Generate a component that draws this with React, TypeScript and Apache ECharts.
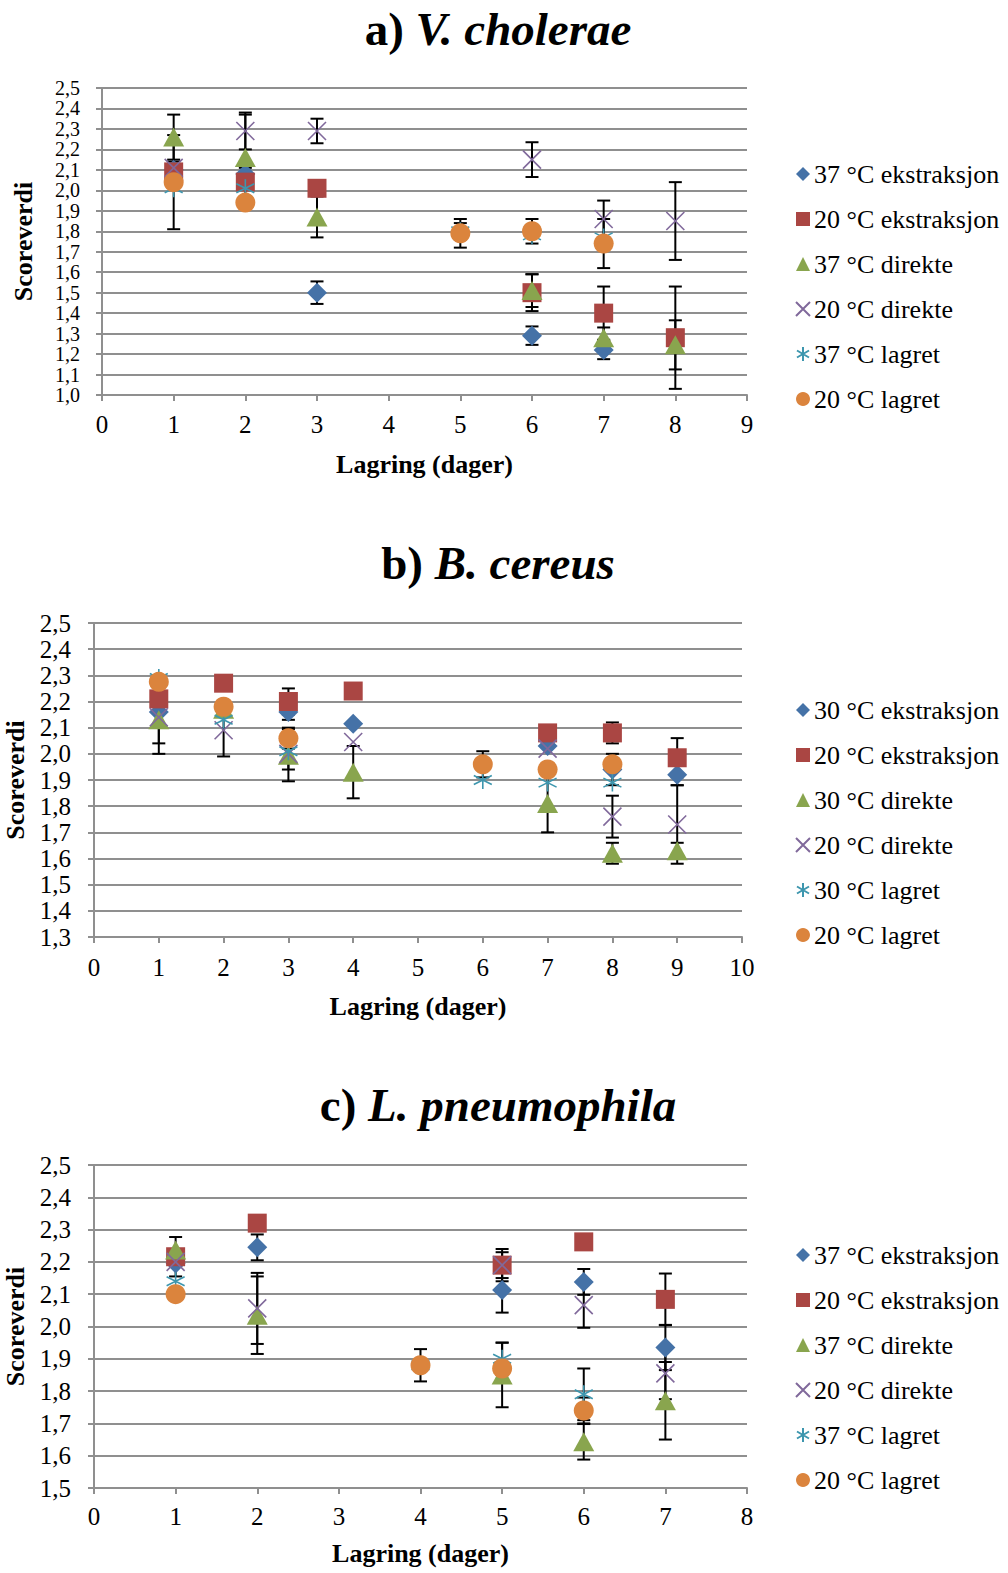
import React, { useEffect, useRef } from 'react';
import * as echarts from 'echarts';

const FONT = '"Liberation Serif", "Times New Roman", Times, serif';

// Titles of the three panels: [prefix, italic organism name]
const TITLES = [
  ['a) ', 'V. cholerae'],
  ['b) ', 'B. cereus'],
  ['c) ', 'L. pneumophila'],
];

const NAMES_A = ['37 °C ekstraksjon', '20 °C ekstraksjon', '37 °C direkte', '20 °C direkte', '37 °C lagret', '20 °C lagret'];
const NAMES_B = ['30 °C ekstraksjon', '20 °C ekstraksjon', '30 °C direkte', '20 °C direkte', '30 °C lagret', '20 °C lagret'];
const NAMES_C = ['37 °C ekstraksjon', '20 °C ekstraksjon', '37 °C direkte', '20 °C direkte', '37 °C lagret', '20 °C lagret'];

const X_MAX = [9, 10, 8];
const Y_MIN = [1.0, 1.3, 1.5];
const Y_MAX = [2.5, 2.5, 2.5];
const X_NAME = 'Lagring (dager)';
const Y_NAME = 'Scoreverdi';

// Panel a: [day, score, error]
const A_HOT_EKS = [[1, 2.1, 0.04], [2, 2.08, 0.03], [3, 1.5, 0.055], [6, 1.29, 0.045], [7, 1.22, 0.045]];
const A_RT_EKS = [[1, 2.09, 0], [2, 2.04, 0], [3, 2.01, 0], [6, 1.5, 0.09], [7, 1.4, 0.13], [8, 1.28, 0.25]];
const A_HOT_DIR = [[1, 2.26, 0.11], [2, 2.16, 0.21], [3, 1.87, 0.1], [6, 1.51, 0.08], [7, 1.28, 0.05], [8, 1.245, 0.12]];
const A_RT_DIR = [[1, 2.11, 0], [2, 2.29, 0.09], [3, 2.29, 0.06], [6, 2.15, 0.085], [7, 1.86, 0.09], [8, 1.85, 0.19]];
const A_HOT_LAG = [[1, 2.01, 0], [2, 2.01, 0], [5, 1.8, 0.04], [6, 1.78, 0], [7, 1.77, 0]];
const A_RT_LAG = [[1, 2.04, 0.23], [2, 1.94, 0], [5, 1.79, 0.07], [6, 1.8, 0.06], [7, 1.74, 0.12]];

// Panel b
const B_HOT_EKS = [[1, 2.16, 0], [3, 2.16, 0.03], [4, 2.115, 0], [7, 2.03, 0], [8, 1.94, 0.06], [9, 1.92, 0.04]];
const B_RT_EKS = [[1, 2.21, 0], [2, 2.27, 0], [3, 2.2, 0.05], [4, 2.24, 0], [7, 2.08, 0], [8, 2.08, 0.04], [9, 1.985, 0.075]];
const B_HOT_DIR = [[1, 2.13, 0.13], [2, 2.17, 0], [3, 1.995, 0.1], [4, 1.93, 0.1], [7, 1.81, 0.11], [8, 1.62, 0.04], [9, 1.63, 0.03]];
const B_RT_DIR = [[1, 2.14, 0.1], [2, 2.09, 0.1], [3, 2.0, 0.06], [4, 2.045, 0], [7, 2.02, 0], [8, 1.76, 0.08], [9, 1.73, 0.15]];
const B_HOT_LAG = [[1, 2.29, 0], [2, 2.13, 0], [3, 2.01, 0], [6, 1.9, 0], [7, 1.89, 0], [8, 1.89, 0]];
const B_RT_LAG = [[1, 2.275, 0], [2, 2.18, 0], [3, 2.06, 0.04], [6, 1.96, 0.05], [7, 1.94, 0], [8, 1.96, 0]];

// Panel c
const C_HOT_EKS = [[1, 2.195, 0.04], [2, 2.245, 0.04], [5, 2.113, 0.07], [6, 2.138, 0.04], [7, 1.935, 0.07]];
const C_RT_EKS = [[1, 2.216, 0], [2, 2.32, 0], [5, 2.19, 0.05], [6, 2.262, 0], [7, 2.084, 0.08]];
const C_HOT_DIR = [[1, 2.237, 0.04], [2, 2.035, 0.12], [5, 1.85, 0.1], [6, 1.643, 0.055], [7, 1.77, 0.12]];
const C_RT_DIR = [[1, 2.2, 0], [2, 2.056, 0.11], [5, 2.19, 0.04], [6, 2.066, 0.07], [7, 1.855, 0.08]];
const C_HOT_LAG = [[1, 2.14, 0], [4, 1.88, 0], [5, 1.9, 0.05], [6, 1.79, 0.08]];
const C_RT_LAG = [[1, 2.1, 0], [4, 1.88, 0.05], [5, 1.87, 0], [6, 1.74, 0.04]];

const PANEL_DATA = [
  [A_HOT_EKS, A_RT_EKS, A_HOT_DIR, A_RT_DIR, A_HOT_LAG, A_RT_LAG],
  [B_HOT_EKS, B_RT_EKS, B_HOT_DIR, B_RT_DIR, B_HOT_LAG, B_RT_LAG],
  [C_HOT_EKS, C_RT_EKS, C_HOT_DIR, C_RT_DIR, C_HOT_LAG, C_RT_LAG],
];
const PANEL_NAMES = [NAMES_A, NAMES_B, NAMES_C];

// Styling (not data)
const COLORS = ['#4572A7', '#AA4643', '#89A54E', '#80699B', '#3D96AE', '#DB843D'];
const SYMBOLS = [
  'diamond',
  'rect',
  'triangle',
  'path://M0,0L10,10M10,0L0,10',
  'path://M5,0L5,10M0.7,2.5L9.3,7.5M0.7,7.5L9.3,2.5',
  'circle',
];
const SIZES: any[] = [[20, 20], [19, 19], [21, 19], [18, 18], [18, 18], [20, 20]];
const OUTLINE = [false, false, false, true, true, false];

const GRIDS = [
  { left: 102, top: 88, width: 645, height: 307, outerBoundsMode: 'none', containLabel: false },
  { left: 94, top: 623, width: 648, height: 314, outerBoundsMode: 'none', containLabel: false },
  { left: 94, top: 1165, width: 653, height: 323, outerBoundsMode: 'none', containLabel: false },
];
const TITLE_TOPS = [0, 534, 1076];
const LEGEND_TOPS = [161, 697, 1242];
const XLABEL_MARGIN = [17, 18, 16];
const XNAME_GAP = [56, 56, 52];
const YNAME_GAP = [66, 66, 64];
const YLABEL_SIZE = [20, 25, 25];
const YLABEL_MARGIN = [22, 23, 23];

const GRID_COLOR = '#8f8f8f';

export default function App() {
  const ref = useRef<HTMLDivElement>(null);
  useEffect(() => {
    if (!ref.current) return;
    const chart = echarts.init(ref.current, undefined, { renderer: 'svg' });

    const xAxis: any[] = [];
    const yAxis: any[] = [];
    const series: any[] = [];
    const legend: any[] = [];
    const title: any[] = [];

    for (let p = 0; p < 3; p++) {
      title.push({
        text: `{n|${TITLES[p][0]}}{s|${TITLES[p][1]}}`,
        left: 493,
        textAlign: 'center',
        top: TITLE_TOPS[p],
        textStyle: {
          rich: {
            n: { fontSize: 47, fontWeight: 'bold', fontFamily: FONT, color: '#000' },
            s: { fontSize: 47, fontWeight: 'bold', fontStyle: 'italic', fontFamily: FONT, color: '#000' },
          },
        },
      });
      xAxis.push({
        type: 'value',
        gridIndex: p,
        min: 0,
        max: X_MAX[p],
        interval: 1,
        name: X_NAME,
        nameLocation: 'middle',
        nameGap: XNAME_GAP[p],
        nameTextStyle: { fontSize: 26, fontWeight: 'bold', fontFamily: FONT, color: '#000' },
        axisLine: { show: true, onZero: false, lineStyle: { color: GRID_COLOR, width: 2 } },
        axisTick: { show: true, inside: false, length: 6, lineStyle: { color: GRID_COLOR, width: 2 } },
        axisLabel: {
          fontSize: 25,
          fontFamily: FONT,
          color: '#000',
          margin: XLABEL_MARGIN[p],
          showMinLabel: true,
          showMaxLabel: true,
        },
        splitLine: { show: false },
      });
      yAxis.push({
        type: 'value',
        gridIndex: p,
        min: Y_MIN[p],
        max: Y_MAX[p],
        interval: 0.1,
        name: Y_NAME,
        nameLocation: 'middle',
        nameRotate: 90,
        nameGap: YNAME_GAP[p],
        nameTextStyle: { fontSize: 26, fontWeight: 'bold', fontFamily: FONT, color: '#000' },
        axisLine: { show: true, onZero: false, lineStyle: { color: GRID_COLOR, width: 2 } },
        axisTick: { show: true, inside: false, length: 6, lineStyle: { color: GRID_COLOR, width: 2 } },
        axisLabel: {
          fontSize: YLABEL_SIZE[p],
          fontFamily: FONT,
          color: '#000',
          margin: YLABEL_MARGIN[p],
          showMinLabel: true,
          showMaxLabel: true,
          hideOverlap: false,
          formatter: (v: number) => v.toFixed(1).replace('.', ','),
        },
        splitLine: { show: true, lineStyle: { color: GRID_COLOR, width: 2 } },
      });

      const errs: number[][] = [];
      PANEL_DATA[p].forEach((arr) => arr.forEach((d) => { if (d[2] > 0) errs.push(d); }));
      series.push({
        type: 'custom',
        xAxisIndex: p,
        yAxisIndex: p,
        z: 1,
        silent: true,
        clip: true,
        encode: { x: 0, y: 1 },
        data: errs,
        renderItem: (_params: any, api: any) => {
          const x = api.value(0);
          const y = api.value(1);
          const e = api.value(2);
          const top = api.coord([x, y + e]);
          const bot = api.coord([x, y - e]);
          const w = 6.5;
          const st = { stroke: '#000', lineWidth: 2 };
          return {
            type: 'group',
            children: [
              { type: 'line', shape: { x1: top[0], y1: top[1], x2: bot[0], y2: bot[1] }, style: st },
              { type: 'line', shape: { x1: top[0] - w, y1: top[1], x2: top[0] + w, y2: top[1] }, style: st },
              { type: 'line', shape: { x1: bot[0] - w, y1: bot[1], x2: bot[0] + w, y2: bot[1] }, style: st },
            ],
          };
        },
      });

      PANEL_DATA[p].forEach((arr, s) => {
        series.push({
          type: 'scatter',
          name: PANEL_NAMES[p][s],
          xAxisIndex: p,
          yAxisIndex: p,
          z: 2,
          symbol: SYMBOLS[s],
          symbolSize: SIZES[s],
          data: arr.map((d) => [d[0], d[1]]),
          itemStyle: OUTLINE[s]
            ? { color: 'rgba(0,0,0,0)', borderColor: COLORS[s], borderWidth: 1.6, opacity: 1 }
            : { color: COLORS[s], opacity: 1 },
        });
      });

      legend.push({
        data: PANEL_NAMES[p],
        orient: 'vertical',
        left: 795,
        top: LEGEND_TOPS[p],
        itemGap: 19,
        itemWidth: 14,
        itemHeight: 14,
        selectedMode: false,
        padding: 0,
        textStyle: { fontSize: 26, fontFamily: FONT, color: '#000', padding: [0, 0, 0, -1] },
      });
    }

    chart.setOption({
      animation: false,
      backgroundColor: '#fff',
      title,
      grid: GRIDS,
      xAxis,
      yAxis,
      legend,
      series,
    });
    return () => chart.dispose();
  }, []);

  return (
    <div
      ref={ref}
      style={{ position: 'absolute', left: 0, top: 0, width: 1008, height: 1573, background: '#fff' }}
    />
  );
}
